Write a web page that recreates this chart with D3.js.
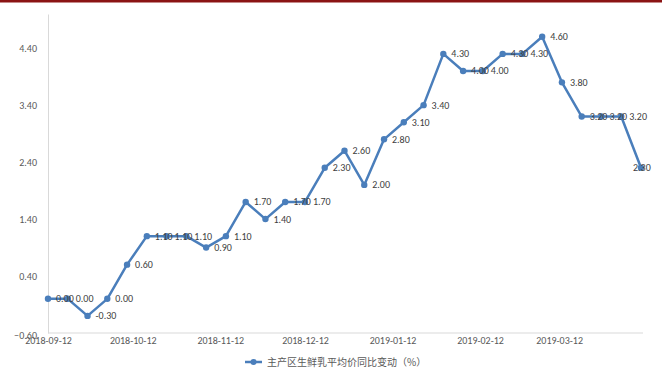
<!DOCTYPE html>
<html>
<head>
<meta charset="utf-8">
<script src="https://cdn.jsdelivr.net/npm/d3@7"></script>
<style>
  body { margin: 0; background: #fff; }
  svg { display: block; }
  text { font-family: Carlito, "Liberation Sans", sans-serif; }
</style>
</head>
<body>
<div id="chart"></div>
<script>
// weekly observations
var dates = ["2018-09-12","2018-09-19","2018-09-26","2018-10-03","2018-10-10","2018-10-17",
  "2018-10-24","2018-10-31","2018-11-07","2018-11-14","2018-11-21","2018-11-28","2018-12-05",
  "2018-12-12","2018-12-19","2018-12-26","2019-01-02","2019-01-09","2019-01-16","2019-01-23",
  "2019-01-30","2019-02-06","2019-02-13","2019-02-20","2019-02-27","2019-03-06","2019-03-13",
  "2019-03-20","2019-03-27","2019-04-03","2019-04-10"];
var values = [0.00, 0.00, -0.30, 0.00, 0.60, 1.10, 1.10, 1.10, 0.90, 1.10, 1.70, 1.40, 1.70,
  1.70, 2.30, 2.60, 2.00, 2.80, 3.10, 3.40, 4.30, 4.00, 4.00, 4.30, 4.30, 4.60, 3.80, 3.20,
  3.20, 3.20, 2.30];
var xTickLabels = ["2018-09-12","2018-10-12","2018-11-12","2018-12-12","2019-01-12","2019-02-12","2019-03-12"];
var yTicks = [-0.60, 0.40, 1.40, 2.40, 3.40, 4.40];
var seriesName = "主产区生鲜乳平均价同比变动（%）";

function init() {
    var w = 662;
    var h = 374;
    var parse = d3.timeParse("%Y-%m-%d");
    var lineColor = "#4a7ebb";

    var svg = d3.select("#chart").append("svg")
                .attr("width", w)
                .attr("height", h);

    // dark red band at the top
    svg.append("rect")
        .attr("x", 0).attr("y", 0)
        .attr("width", w).attr("height", 2.5)
        .attr("fill", "#8b1414");

    var data = dates.map((d, i) => ({ date: parse(d), value: values[i] }));

    var xScale = d3.scaleTime()
        .domain([parse(dates[0]), parse(dates[dates.length - 1])])
        .range([48, 641]);

    var yScale = d3.scaleLinear()
        .domain([-0.6, 5.0])
        .range([333, 14]);

    // y axis
    var yAxis = d3.axisLeft(yScale)
        .tickValues(yTicks)
        .tickSize(0)
        .tickPadding(11)
        .tickFormat(d3.format(".2f"));
    var gy = svg.append("g")
        .attr("transform", "translate(48,0)")
        .call(yAxis);
    gy.select(".domain").attr("stroke", "#d9d9d9");
    gy.selectAll("text")
        .attr("fill", "#595959")
        .style("font-size", "10px");
    gy.selectAll(".tick")
        .filter(d => d === -0.6)
        .select("text")
        .attr("dy", "0.55em");

    // x axis
    var xAxis = d3.axisBottom(xScale)
        .tickValues(xTickLabels.map(parse))
        .tickSize(0)
        .tickPadding(4)
        .tickFormat(d3.timeFormat("%Y-%m-%d"));
    var gx = svg.append("g")
        .attr("transform", "translate(0,333)")
        .call(xAxis);
    gx.select(".domain")
        .attr("stroke", "#d9d9d9")
        .attr("d", "M48,0H643");
    gx.selectAll("text")
        .attr("fill", "#595959")
        .style("font-size", "10px");

    // the line
    var line = d3.line()
        .x(d => xScale(d.date))
        .y(d => yScale(d.value));

    svg.append("path")
        .datum(data)
        .attr("fill", "none")
        .attr("stroke", lineColor)
        .attr("stroke-width", 2.5)
        .attr("stroke-linejoin", "round")
        .attr("d", line);

    svg.selectAll("circle.pt")
        .data(data)
        .enter()
        .append("circle")
        .attr("class", "pt")
        .attr("cx", d => xScale(d.date))
        .attr("cy", d => yScale(d.value))
        .attr("r", 3.2)
        .attr("fill", lineColor);

    // data labels to the right of each point (kept inside the plot)
    svg.selectAll("text.lbl")
        .data(data)
        .enter()
        .append("text")
        .attr("class", "lbl")
        .attr("x", d => Math.min(xScale(d.date) + 8, 633))
        .attr("y", d => yScale(d.value))
        .attr("dy", "0.35em")
        .attr("fill", "#404040")
        .style("font-size", "10px")
        .text(d => d.value.toFixed(2));

    // legend
    var lg = svg.append("g").attr("transform", "translate(245,362)");
    lg.append("line")
        .attr("x1", 0).attr("x2", 17)
        .attr("stroke", lineColor)
        .attr("stroke-width", 2.5);
    lg.append("circle")
        .attr("cx", 8.5).attr("r", 3)
        .attr("fill", lineColor);
    lg.append("text")
        .attr("x", 22)
        .attr("dy", "0.35em")
        .attr("fill", "#595959")
        .style("font-family", "'Noto Sans CJK SC', sans-serif")
        .style("font-size", "10px")
        .text(seriesName);
}

window.onload = init;
</script>
</body>
</html>
